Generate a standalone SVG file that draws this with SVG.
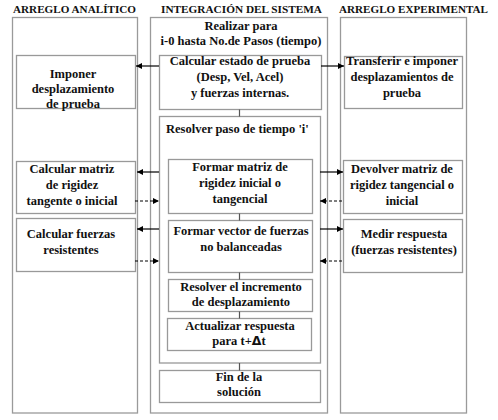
<svg xmlns="http://www.w3.org/2000/svg" width="498" height="420" viewBox="0 0 498 420">
<defs>
<style>
.col{fill:#fff;stroke:#9a9a9a;stroke-width:1.3}
.box{fill:#fff;stroke:#999;stroke-width:1.3}
.lnk{stroke:#555;stroke-width:1.2;fill:none}
.arr{stroke:#000;stroke-width:1.2;fill:none;marker-end:url(#ah)}
.dash{stroke-dasharray:3,2}
.c{text-anchor:middle}
.hd{font-size:11px}
</style>
<marker id="ah" viewBox="0 0 10 10" refX="10" refY="5" markerWidth="7" markerHeight="6" markerUnits="userSpaceOnUse" orient="auto">
<path d="M0,0 L10,5 L0,10 Z" fill="#000"/>
</marker>
</defs>
<rect width="498" height="420" fill="#fff"/>
<g font-family="Liberation Serif, DejaVu Serif, serif" font-weight="bold" font-size="12.5" fill="#111">
<g id="headers">
<text class="hd" x="13" y="13" textLength="123" lengthAdjust="spacingAndGlyphs">ARREGLO ANALÍTICO</text>
<text class="hd" x="161" y="13" textLength="161" lengthAdjust="spacingAndGlyphs">INTEGRACIÓN DEL SISTEMA</text>
<text class="hd" x="339" y="13" textLength="149" lengthAdjust="spacingAndGlyphs">ARREGLO EXPERIMENTAL</text>
</g>
<g id="col-analitico"><rect class="col" x="12.5" y="17.5" width="125" height="395.5"/></g>
<g id="col-integracion">
<rect class="col" x="150.5" y="17.5" width="177" height="395.5"/>
<text class="c" x="241" y="30">Realizar para</text>
<text class="c" x="241" y="45">i-0 hasta No.de Pasos (tiempo)</text>
</g>
<g id="col-experimental"><rect class="col" x="340.5" y="17.5" width="126" height="395.5"/></g>
<g id="resolver-paso">
<rect class="box" x="159.5" y="116.5" width="161" height="246.5"/>
<text x="166" y="133">Resolver paso de tiempo 'i'</text>
</g>
<g id="imponer">
<rect class="box" x="16.5" y="55.5" width="119" height="53"/>
<text class="c" x="73" y="78">Imponer</text>
<text class="c" x="73" y="93">desplazamiento</text>
<text class="c" x="73" y="108">de prueba</text>
</g>
<g id="calcular-estado">
<rect class="box" x="159.5" y="55.5" width="162" height="54"/>
<text class="c" x="240" y="65">Calcular estado de prueba</text>
<text class="c" x="240" y="81">(Desp, Vel, Acel)</text>
<text class="c" x="240" y="97">y fuerzas internas.</text>
</g>
<g id="transferir">
<rect class="box" x="344.5" y="56.5" width="118" height="52"/>
<text class="c" x="402" y="65">Transferir e imponer</text>
<text class="c" x="402" y="81">desplazamientos de</text>
<text class="c" x="402" y="97">prueba</text>
</g>
<g id="calcular-matriz">
<rect class="box" x="16.5" y="161.5" width="119" height="52"/>
<text class="c" x="72" y="173">Calcular matriz</text>
<text class="c" x="72" y="189">de rigidez</text>
<text class="c" x="72" y="205">tangente o inicial</text>
</g>
<g id="formar-matriz">
<rect class="box" x="168.5" y="159.5" width="144" height="54"/>
<text class="c" x="240" y="171">Formar matriz de</text>
<text class="c" x="240" y="187">rigidez inicial o</text>
<text class="c" x="240" y="203">tangencial</text>
</g>
<g id="devolver-matriz">
<rect class="box" x="343.5" y="160.5" width="119" height="53"/>
<text class="c" x="402" y="173">Devolver matriz de</text>
<text class="c" x="402" y="189">rigidez tangencial o</text>
<text class="c" x="402" y="205">inicial</text>
</g>
<g id="calcular-fuerzas">
<rect class="box" x="16.5" y="218.5" width="119" height="53"/>
<text class="c" x="71" y="238">Calcular fuerzas</text>
<text class="c" x="71" y="254">resistentes</text>
</g>
<g id="formar-vector">
<rect class="box" x="168.5" y="220.5" width="144" height="52"/>
<text class="c" x="241" y="235">Formar vector de fuerzas</text>
<text class="c" x="241" y="251">no balanceadas</text>
</g>
<g id="medir">
<rect class="box" x="343.5" y="219.5" width="119" height="53"/>
<text class="c" x="404" y="238">Medir respuesta</text>
<text class="c" x="404" y="254">(fuerzas resistentes)</text>
</g>
<g id="resolver-incremento">
<rect class="box" x="168.5" y="279.5" width="144" height="32"/>
<text class="c" x="241" y="291">Resolver el incremento</text>
<text class="c" x="241" y="306">de desplazamiento</text>
</g>
<g id="actualizar">
<rect class="box" x="167.5" y="318.5" width="144" height="32"/>
<text class="c" x="240" y="330">Actualizar respuesta</text>
<text class="c" x="239" y="345">para t+<tspan font-family="DejaVu Sans, sans-serif">Δ</tspan>t</text>
</g>
<g id="fin">
<rect class="box" x="159.5" y="370.5" width="161" height="32"/>
<text class="c" x="239" y="381">Fin de la</text>
<text class="c" x="239" y="396">solución</text>
</g>
</g>
<g id="connectors">
<path class="lnk" d="M239.5,109.5V116.5M239.5,213.5V220.5M239.5,272.5V279.5M239.5,311.5V318.5M239.5,363V370.5"/>
<line class="arr" x1="159" y1="66" x2="136" y2="66"/>
<line class="arr" x1="321" y1="66" x2="344" y2="66"/>
<line class="arr" x1="159" y1="172" x2="137" y2="172"/>
<line class="arr" x1="320" y1="172" x2="343" y2="172"/>
<line class="arr dash" x1="135" y1="201" x2="159" y2="201"/>
<line class="arr dash" x1="342" y1="201" x2="320" y2="201"/>
<line class="arr" x1="159" y1="229" x2="137" y2="229"/>
<line class="arr" x1="320" y1="229" x2="343" y2="229"/>
<line class="arr dash" x1="135" y1="261" x2="159" y2="261"/>
<line class="arr dash" x1="342" y1="261" x2="320" y2="261"/>
</g>
</svg>
